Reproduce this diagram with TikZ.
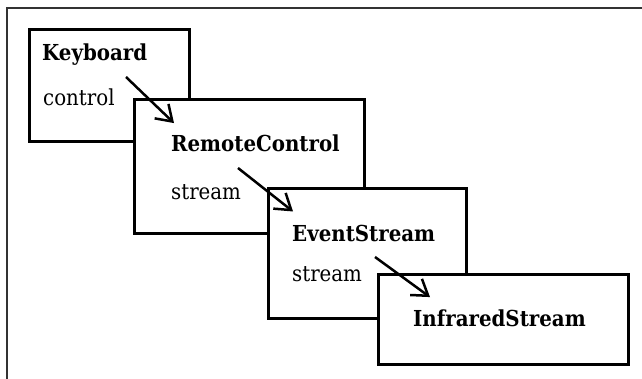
\documentclass[tikz,border=0pt]{standalone}
\usepackage{fontspec}
\setmainfont{DejaVu Serif Condensed}
\usetikzlibrary{arrows.meta,calc}
\tikzset{
  cls/.style={draw=black, line width=2.6pt, fill=white, anchor=north west, inner sep=0pt},
  title/.style={anchor=base west, inner sep=0pt, font=\fontsize{22}{24}\selectfont\bfseries},
  role/.style={anchor=base west, inner sep=0pt, font=\fontsize{22}{24}\selectfont},
  link/.style={line width=2.5pt, -{Straight Barb[length=15pt,width=20pt,line width=2.5pt]}},
}
\begin{document}
\begin{tikzpicture}[x=1pt,y=-1pt]
\useasboundingbox (0,0) rectangle (642,379);
% frame edges
\draw[line width=1.2pt, black!80] (642,8) -- (7,8) -- (7,379);
% class boxes, each later one covering the previous
\node[cls, minimum width=160pt, minimum height=112pt] (kb) at (28,28) {};
\node[cls, minimum width=230pt, minimum height=134pt] (rc) at (133,98) {};
\node[cls, minimum width=198pt, minimum height=130pt] (es) at (267,187) {};
\node[cls, minimum width=250pt, minimum height=90pt] (ir) at (377,273) {};
% labels
\node[title] (kbT) at (42,61) {Keyboard};
\node[role]  (kbR) at (43,106) {control};
\node[title] (rcT) at (171,152) {RemoteControl};
\node[role]  (rcR) at (171,200) {stream};
\node[title] (esT) at (292,242) {EventStream};
\node[role]  (esR) at (292,281) {stream};
\node[title] (irT) at (413,326) {InfraredStream};
% references between the objects
\coordinate (kbA) at (126,77);
\coordinate (rcA) at (238,168);
\coordinate (esA) at (375,257);
\draw[link] (kbA) -- ($(rcT.north west)+(3,-12)$);
\draw[link] (rcA) -- ($(esT.north west)+(1,-14)$);
\draw[link] (esA) -- ($(irT.north west)+(17,-12)$);
\end{tikzpicture}
\end{document}
